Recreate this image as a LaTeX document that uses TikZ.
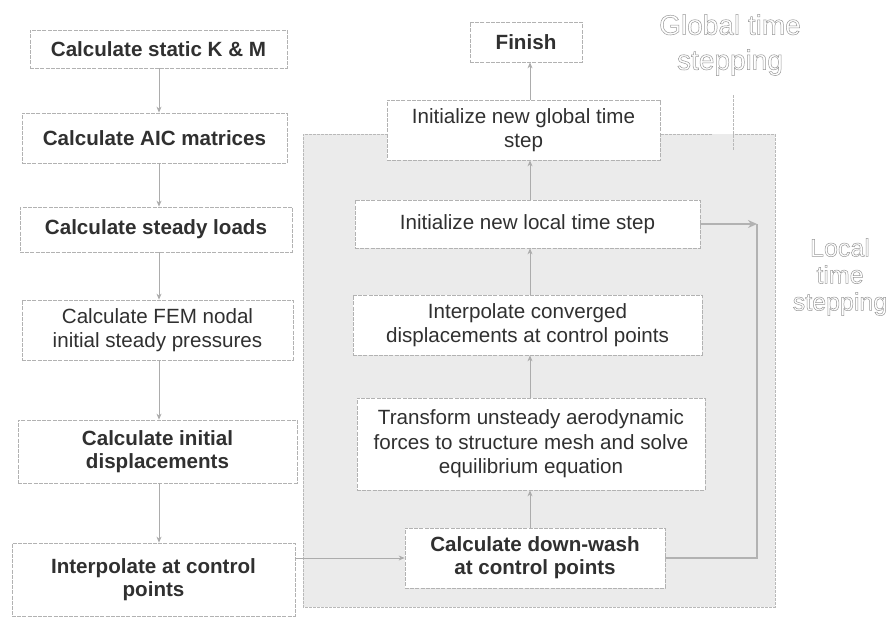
\documentclass[tikz,border=0pt]{standalone}
\usepackage{fontspec}
\setmainfont{Liberation Sans}
\usetikzlibrary{arrows.meta}
\definecolor{txt}{HTML}{303030}
\definecolor{regionfill}{HTML}{EBEBEB}
\newcommand{\hollowtext}[1]{\special{pdf:literal direct 1 Tr 0.5 w 0.6 G}#1\special{pdf:literal direct 0 Tr}}
\tikzset{
  box/.style={draw=gray!60, line width=0.8pt, dash pattern=on 4pt off 1.2pt, fill=white, align=center, inner sep=0pt, text=txt},
  boldtxt/.style={font=\fontsize{20.6}{23}\selectfont\bfseries},
  regtxt/.style={font=\fontsize{20.6}{24.5}\selectfont},
  conn/.style={draw=gray!65, line width=0.8pt, -{Stealth[length=6pt,width=5pt]}},
  loopline/.style={draw=gray!60, line width=1.6pt},
  edge/.style={draw=gray!55, line width=0.8pt, dash pattern=on 3pt off 1pt},
  lbl/.style={text=gray!60, align=center, inner sep=0pt}
}
\begin{document}
\begin{tikzpicture}[x=1pt,y=-1pt]
\path[use as bounding box, fill=white] (0,0) rectangle (889,619);
% global time stepping region
\fill[regionfill] (303,134) rectangle (775,607);
\draw[edge] (712,134) -- (303,134) -- (303,607) -- (775,607) -- (775,134) -- (733,134);
\draw[edge] (733,95) -- (733,150);
% left column
\node[box, boldtxt, minimum width=257pt, minimum height=38pt] (n1) at (158.5,49) {Calculate static K \& M};
\node[box, boldtxt, minimum width=265pt, minimum height=50pt] (n2) at (154.5,138) {Calculate AIC matrices};
\node[box, boldtxt, minimum width=272pt, minimum height=45pt] (n3) at (156,229.5) {Calculate steady loads};
\node[box, regtxt, minimum width=271pt, minimum height=60pt] (n4) at (157.5,330) {Calculate FEM nodal\\initial steady pressures};
\node[box, boldtxt, minimum width=279pt, minimum height=63pt] (n5) at (157.5,451.5) {Calculate initial\\displacements};
\node[box, boldtxt, minimum width=283pt, minimum height=73pt] (n6) at (153.5,579.5) {Interpolate at control\\points};
% right column
\node[box, boldtxt, minimum width=112pt, minimum height=40pt] (fin) at (526,42) {Finish};
\node[box, regtxt, minimum width=273pt, minimum height=60pt] (glob) at (523.5,130) {Initialize new global time\\step};
\node[box, regtxt, minimum width=345pt, minimum height=48pt] (loc) at (527.5,224) {Initialize new local time step};
\node[box, regtxt, minimum width=349pt, minimum height=60pt] (intc) at (527.5,325) {Interpolate converged\\displacements at control points};
\node[box, regtxt, minimum width=348pt, minimum height=92pt] (trf) at (531,444) {Transform unsteady aerodynamic\\forces to structure mesh and solve\\equilibrium equation};
\node[box, boldtxt, minimum width=260pt, minimum height=60pt] (dw) at (535,558) {Calculate down-wash\\at control points};
% labels
\node[lbl, font=\fontsize{28}{35}\selectfont] (glabel) at (730,45) {\hollowtext{Global time}\\\hollowtext{stepping}};
\node[lbl, font=\fontsize{25}{27}\selectfont] (llabel) at (840,277) {\hollowtext{Local}\\\hollowtext{time}\\\hollowtext{stepping}};
% left connectors
\coordinate (lx) at (159,0);
\draw[conn] (lx |- n1.south) -- (lx |- n2.north);
\draw[conn] (lx |- n2.south) -- (lx |- n3.north);
\draw[conn] (lx |- n3.south) -- (lx |- n4.north);
\draw[conn] (lx |- n4.south) -- (lx |- n5.north);
\draw[conn] (lx |- n5.south) -- (lx |- n6.north);
\draw[conn] (n6.east |- dw.west) -- (dw.west);
% right connectors
\coordinate (rx) at (530,0);
\draw[conn] (rx |- dw.north) -- (rx |- trf.south);
\draw[conn] (rx |- trf.north) -- (rx |- intc.south);
\draw[conn] (rx |- intc.north) -- (rx |- loc.south);
\draw[conn] (rx |- loc.north) -- (rx |- glob.south);
\draw[conn] (rx |- glob.north) -- (rx |- fin.south);
% local loop
\coordinate (c1) at (757,224);
\coordinate (c2) at (757,558);
\draw[loopline, -{Stealth[length=9pt,width=8pt]}] (loc.east) -- (c1);
\draw[loopline] (c1) -- (c2) -- (dw.east);
\end{tikzpicture}
\end{document}
